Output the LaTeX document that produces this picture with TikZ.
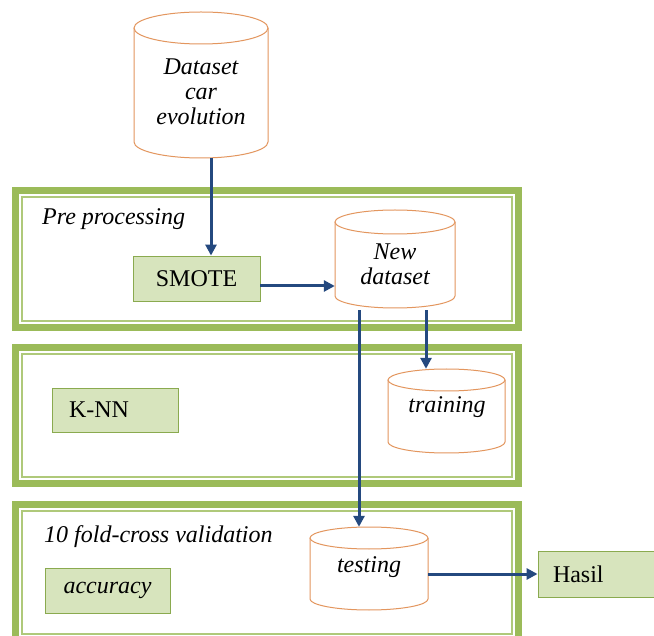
\documentclass[tikz,border=0pt]{standalone}
\usepackage{fontspec}
\setmainfont{Liberation Serif}
\usetikzlibrary{arrows.meta,calc}
\definecolor{framegreen}{HTML}{9BBB59}
\definecolor{boxfill}{HTML}{D7E4BD}
\definecolor{boxline}{HTML}{8AAA4F}
\definecolor{cylorange}{HTML}{E3965E}
\definecolor{arrowblue}{HTML}{24497F}
\tikzset{
  framebandA/.style={draw=framegreen, line width=6.5pt},
  framebandB/.style={draw=framegreen!80, line width=1.6pt},
  gbox/.style={draw=boxline, fill=boxfill, line width=0.9pt, inner sep=0pt, font=\fontsize{24}{25}\selectfont},
  cylline/.style={draw=cylorange, line width=1pt, fill=white},
  cylbox/.style={draw=none, inner sep=0pt},
  cyltext/.style={align=center, font=\fontsize{24}{25}\selectfont\itshape, inner sep=0pt},
  lbl/.style={anchor=west, font=\fontsize{24}{25}\selectfont\itshape, inner sep=0pt},
  arr/.style={draw=arrowblue, line width=3pt, -{Triangle[length=11pt,width=11pt]}},
}
\newcommand\mycyl[6]{% L R T B ry name
  \draw[cylline] (#1,{#3+#5}) -- (#1,{#4-#5}) arc[start angle=180,end angle=0,x radius={(#2-#1)/2},y radius=#5] -- (#2,{#3+#5});
  \draw[cylline] ({(#1+#2)/2},{#3+#5}) ellipse[x radius={(#2-#1)/2},y radius=#5];
  \node[cylbox, minimum width={(#2-#1)*1pt}, minimum height={(#4-#3)*1pt}] (#6) at ({(#1+#2)/2},{(#3+#4)/2}) {};
}
\begin{document}
\begin{tikzpicture}[x=1pt,y=-1pt]
\useasboundingbox (0,0) rectangle (654,636);
\fill[white] (0,0) rectangle (654,636);
\clip (0,0) rectangle (654,636);
% frames
\foreach \t/\b in {187/331, 344/487, 501/644}{
  \draw[framebandA] (15.5,{\t+3.5}) rectangle (518.5,{\b-3.5});
  \draw[framebandB] (22,{\t+10}) rectangle (512,{\b-10});
}
\node[lbl] (pre) at (42,219) {Pre processing};
\node[lbl] (cv) at (44,537) {10 fold-cross validation};
% cylinders
\mycyl{134}{268}{12}{158}{16}{src}
\node[cyltext] (srct) at (201,92) {Dataset\\car\\evolution};
\mycyl{335}{455}{210}{308}{12}{newds}
\node[cyltext] (newdst) at (395,264) {New\\dataset};
\mycyl{388}{505}{369}{453}{11}{train}
\node[cyltext] (traint) at (447,407) {training};
\mycyl{310}{428}{527}{610}{11}{test}
\node[cyltext] (testt) at (369,567) {testing};
% boxes
\node[gbox, minimum width=127pt, minimum height=45pt] (smote) at (196.5,278.5) {SMOTE};
\node[gbox, minimum width=126pt, minimum height=44pt, text width=92pt, align=left, inner xsep=17pt] (knn) at (115,410) {K-NN};
\node[gbox, minimum width=125pt, minimum height=45pt, font=\fontsize{24}{25}\selectfont\itshape] (acc) at (107.5,590.5) {accuracy};
\node[gbox, minimum width=124pt, minimum height=46pt, text width=94pt, align=left, inner xsep=15pt] (hasil) at (600,574) {Hasil};
% connectors
\coordinate (c1) at (211,0);
\coordinate (c2) at (0,286);
\coordinate (c3) at (359,0);
\coordinate (c4) at (426,0);
\coordinate (c5) at (0,574);
\draw[arr] (src.south -| c1) -- (smote.north -| c1);
\draw[arr] (smote.east |- c2) -- (newds.west |- c2);
\draw[arr] ([yshift=-2pt]newds.south -| c3) -- (test.north -| c3);
\draw[arr] ([yshift=-2pt]newds.south -| c4) -- (train.north -| c4);
\draw[arr] (test.east |- c5) -- (hasil.west |- c5);
\end{tikzpicture}
\end{document}
